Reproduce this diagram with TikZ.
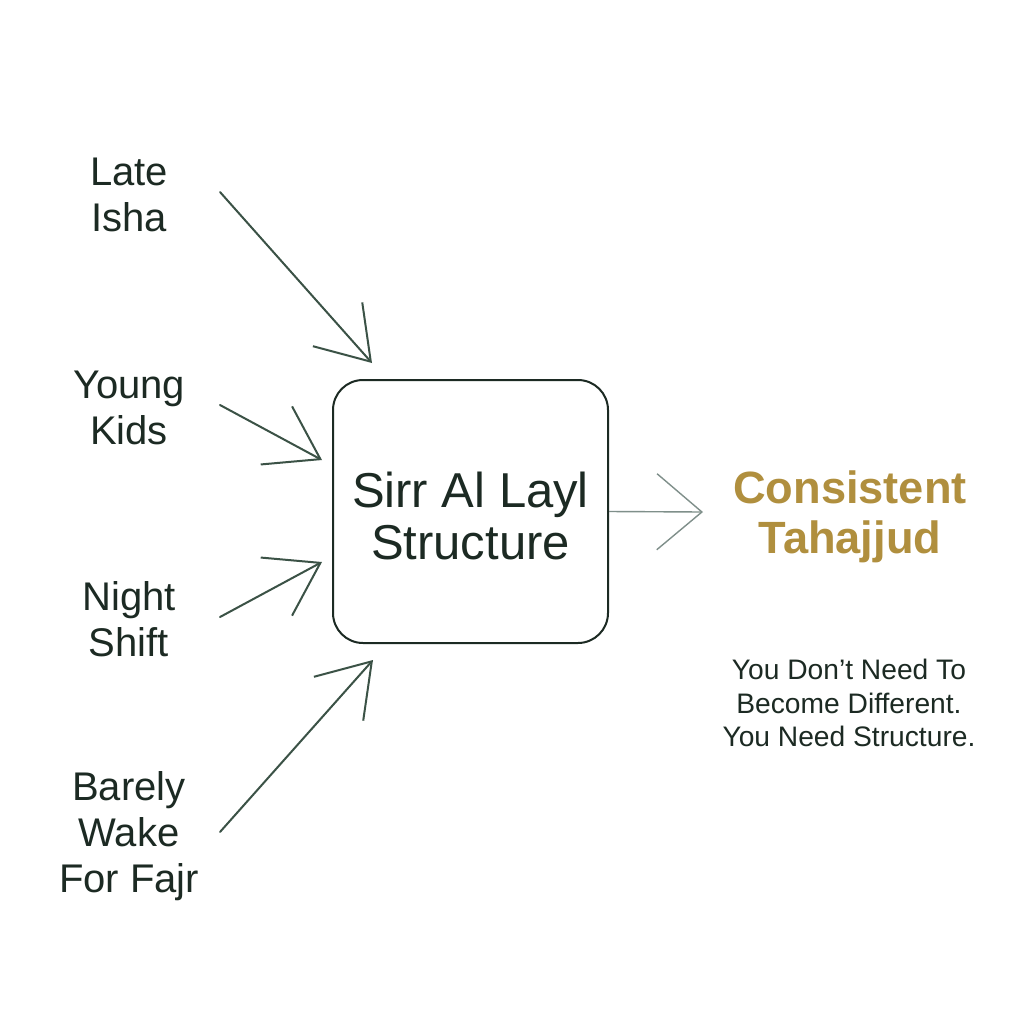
\documentclass[tikz,border=0pt]{standalone}
\usepackage{fontspec}
\setmainfont{Liberation Sans}
\usetikzlibrary{arrows.meta}
\definecolor{ink}{HTML}{1C2A23}
\definecolor{arrowc}{HTML}{3B5246}
\definecolor{outc}{HTML}{7F8F8A}
\definecolor{gold}{HTML}{B08F3E}
\begin{document}
\begin{tikzpicture}[x=0.5pt,y=-0.5pt,
  lbl/.style={align=center,text=ink,font=\fontsize{20}{23}\selectfont,inner sep=0pt},
  inarrow/.style={draw=arrowc,line width=1pt,line cap=round,line join=round,
    -{Straight Barb[length=25pt,width=33pt,line join=miter]}},
  outarrow/.style={draw=outc,line width=0.7pt,
    -{Straight Barb[length=22.5pt,width=38pt]}},
  mainbox/.style={draw=ink,line width=1pt,rounded corners=15pt,minimum width=137.5pt,minimum height=131.5pt},
  boxtext/.style={align=center,text=ink,inner sep=0pt,font=\fontsize{24.5}{26}\selectfont}]
\useasboundingbox[fill=white] (0,0) rectangle (1024,1024);
\node[mainbox] (box) at (470.5,511.5) {};
\node[boxtext] (boxlabel) at (470.5,516) {Sirr Al Layl\\Structure};
\node[lbl] (late) at (129,195) {Late\\Isha};
\node[lbl] (kids) at (129,408) {Young\\Kids};
\node[lbl] (night) at (129,619) {Night\\Shift};
\node[lbl] (fajr) at (129,836) {Barely\\Wake\\For Fajr};
\node[align=center,text=gold,inner sep=0pt,font=\fontsize{22.6}{25}\bfseries\selectfont] (goal) at (850,517) {Consistent\\Tahajjud};
\node[align=center,text=ink,inner sep=0pt,font=\fontsize{14.1}{16.75}\selectfont] (msg) at (849,703) {You Don’t Need To\\Become Different.\\You Need Structure.};
\coordinate (a1s) at (220,192); \coordinate (a1e) at (372,363);
\coordinate (a2s) at (220,405); \coordinate (a2e) at (322,460);
\coordinate (a3s) at (220,617); \coordinate (a3e) at (322,562);
\coordinate (a4s) at (220,832); \coordinate (a4e) at (373,660);
\coordinate (oute) at (703,512);
\draw[inarrow] (a1s) -- (a1e);
\draw[inarrow] (a2s) -- (a2e);
\draw[inarrow] (a3s) -- (a3e);
\draw[inarrow] (a4s) -- (a4e);
\draw[outarrow] (box.east) -- (oute);
\end{tikzpicture}
\end{document}
